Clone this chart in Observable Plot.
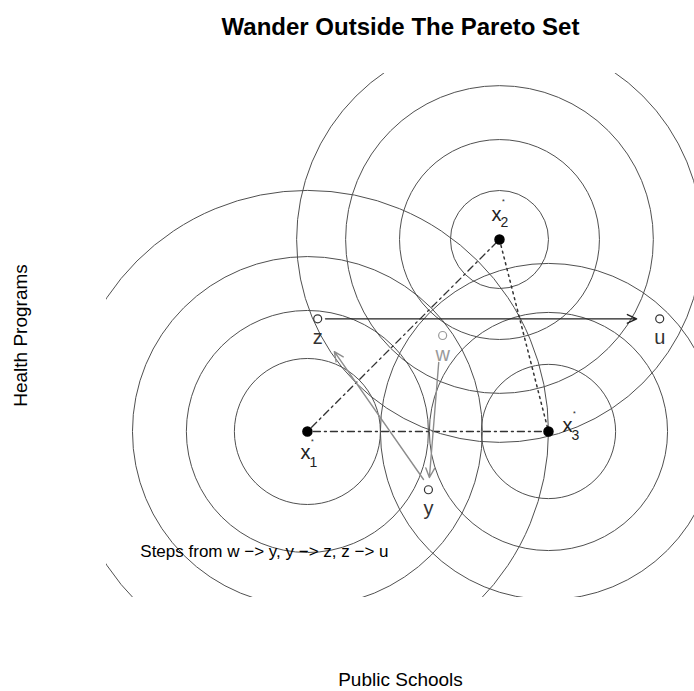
<!DOCTYPE html>
<html>
<head>
<meta charset="utf-8">
<script src="https://cdn.jsdelivr.net/npm/d3@7"></script>
<script src="https://cdn.jsdelivr.net/npm/@observablehq/plot@0.6"></script>
<style>
  body { margin: 0; background: white; }
  svg { display: block; }
</style>
</head>
<body>
<div id="chart"></div>
<script>
// ---- data (in plot units) ----
const idealNames = ["1", "2", "3"];
const idealX = [4.10, 8.02, 9.02];
const idealY = [3.39, 7.31, 3.39];
const idealRadii = [
  [1.49, 2.47, 3.57, 4.92],
  [1.00, 2.04, 3.14, 4.14],
  [1.37, 2.43, 3.43]
];

const pointNames = ["w", "y", "z", "u"];
const pointX = [6.86, 6.57, 4.31, 11.29];
const pointY = [5.35, 2.20, 5.69, 5.69];
const pointColor = ["#9a9a9a", "#333", "#333", "#333"];

// steps (arrows)
const stepFrom = ["w", "y", "z"];
const stepTo = ["y", "z", "u"];
const stepX1 = [6.78, 6.47, 4.47];
const stepY1 = [4.80, 2.41, 5.69];
const stepX2 = [6.59, 4.65, 10.82];
const stepY2 = [2.45, 5.02, 5.69];
const stepColor = ["#8c8c8c", "#8c8c8c", "#222"];

const noteText = ["Steps from w \u2212> y, y \u2212> z, z \u2212> u"];
const noteX = [0.69];
const noteY = [0.94];

const titleText = "Wander Outside The Pareto Set";
const xLabel = "Public Schools";
const yLabel = "Health Programs";

// ---- derived tables ----
const ideals = idealNames.map((n, i) => ({name: n, x: idealX[i], y: idealY[i]}));
const circles = ideals.flatMap((d, i) => idealRadii[i].map(r => ({x: d.x, y: d.y, r})));
const points = pointNames.map((n, i) => ({name: n, x: pointX[i], y: pointY[i], c: pointColor[i]}));
const steps = stepFrom.map((f, i) => ({f, t: stepTo[i], x1: stepX1[i], y1: stepY1[i], x2: stepX2[i], y2: stepY2[i], c: stepColor[i]}));
const pareto12 = [ideals[0], ideals[1]];
const pareto13 = [ideals[0], ideals[2]];
const pareto23 = [ideals[1], ideals[2]];

// label offsets (pixels) for the ideal-point labels
const xOff = [{dx: -2, dy: 21}, {dx: -3, dy: -25}, {dx: 19, dy: -6}];
const subOff = [{dx: 6, dy: 31}, {dx: 5, dy: -17}, {dx: 27, dy: 4}];
const starOff = [{dx: 5, dy: 10}, {dx: 4, dy: -38}, {dx: 26, dy: -18}];

const font = "'Liberation Sans', Arial, Helvetica, sans-serif";

const marks = [
  Plot.dot(circles, {x: "x", y: "y", r: "r", stroke: "#505050", strokeWidth: 1, fill: "none", clip: true}),
  Plot.line(pareto12, {x: "x", y: "y", stroke: "#333", strokeWidth: 1.3, strokeDasharray: "2,4,7,4"}),
  Plot.line(pareto13, {x: "x", y: "y", stroke: "#333", strokeWidth: 1.3, strokeDasharray: "2,4,7,4"}),
  Plot.line(pareto23, {x: "x", y: "y", stroke: "#333", strokeWidth: 1.5, strokeDasharray: "2,4"}),
  Plot.arrow(steps, {x1: "x1", y1: "y1", x2: "x2", y2: "y2", stroke: "c", strokeWidth: 1.4, headLength: 11, headAngle: 50, inset: 0}),
  Plot.dot(ideals, {x: "x", y: "y", r: 4.5, fill: "black", stroke: "black"}),
  Plot.dot(points, {x: "x", y: "y", r: 4, fill: "white", stroke: "c", strokeWidth: 1.2}),
  Plot.text(points, {x: "x", y: "y", text: "name", dy: 19, fill: "c", fontSize: 20, lineAnchor: "middle"}),
  Plot.text(noteText, {x: () => noteX[0], y: () => noteY[0], text: d => d, textAnchor: "start", fontSize: 17, fill: "black", lineAnchor: "middle"}),
  Plot.text([titleText], {frameAnchor: "top", dy: -46, text: d => d, fontSize: 24, fontWeight: "bold", fill: "black", textAnchor: "middle", lineAnchor: "middle"}),
  Plot.text([xLabel], {frameAnchor: "bottom", dy: 82, text: d => d, fontSize: 19, fill: "black", textAnchor: "middle", lineAnchor: "middle"}),
  Plot.text([yLabel], {frameAnchor: "left", dx: -86, rotate: -90, text: d => d, fontSize: 19, fill: "black", textAnchor: "middle", lineAnchor: "middle"})
];

ideals.forEach((d, i) => {
  marks.push(Plot.text([d], {x: "x", y: "y", text: () => "x", dx: xOff[i].dx, dy: xOff[i].dy, fontSize: 20, fill: "#222", lineAnchor: "middle"}));
  marks.push(Plot.text([d], {x: "x", y: "y", text: "name", dx: subOff[i].dx, dy: subOff[i].dy, fontSize: 14, fill: "#222", lineAnchor: "middle"}));
  marks.push(Plot.text([d], {x: "x", y: "y", text: () => "*", dx: starOff[i].dx, dy: starOff[i].dy, fontSize: 7, fill: "#222", lineAnchor: "middle"}));
});

const chart = Plot.plot({
  width: 694,
  height: 691,
  marginLeft: 106,
  marginRight: 0,
  marginTop: 73,
  marginBottom: 94,
  x: {domain: [0, 12], axis: null},
  y: {domain: [0, 10.7], axis: null},
  r: {type: "linear", domain: [0, 1], range: [0, 49]},
  style: {fontFamily: font, background: "white", overflow: "visible"},
  marks
});
document.getElementById("chart").appendChild(chart);
</script>
</body>
</html>
